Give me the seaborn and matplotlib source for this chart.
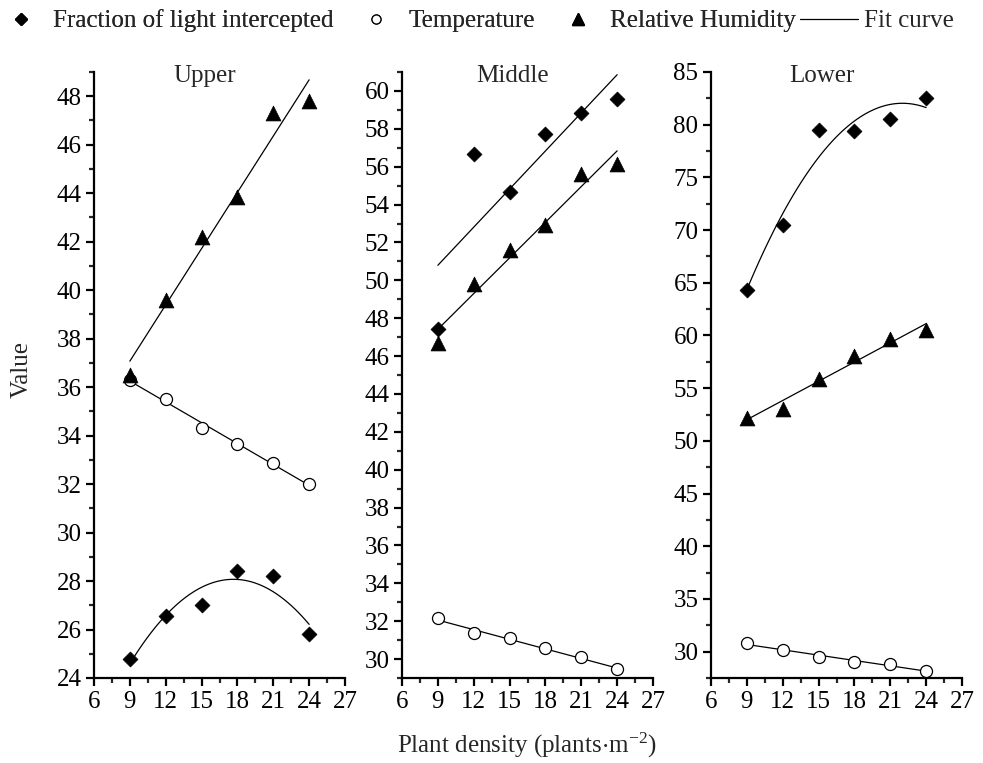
import numpy as np
import pandas as pd
import matplotlib
matplotlib.use("Agg")
import matplotlib.pyplot as plt
import seaborn as sns
from matplotlib.lines import Line2D
from matplotlib.ticker import MultipleLocator

density = [9, 12, 15, 18, 21, 24]

upper_fli = [24.8, 26.55, 27.0, 28.4, 28.2, 25.8]
upper_temp = [36.3, 35.5, 34.3, 33.65, 32.85, 32.0]
upper_rh = [36.5, 39.6, 42.2, 43.85, 47.3, 47.8]

middle_fli = [47.45, 56.65, 54.65, 57.75, 58.85, 59.6]
middle_temp = [32.15, 31.35, 31.1, 30.6, 30.1, 29.45]
middle_rh = [46.7, 49.8, 51.6, 52.9, 55.6, 56.15]

lower_fli = [64.3, 70.5, 79.5, 79.4, 80.5, 82.5]
lower_temp = [30.8, 30.2, 29.5, 29.0, 28.8, 28.2]
lower_rh = [52.2, 53.0, 55.9, 58.1, 59.7, 60.5]

panel_titles = ["Upper", "Middle", "Lower"]
series_labels = ["Fraction of light intercepted", "Temperature", "Relative Humidity"]

sns.set_style("ticks")
plt.rcParams["font.family"] = ["Liberation Serif", "DejaVu Serif"]
plt.rcParams["mathtext.fontset"] = "stix"

FS = 18

fig = plt.figure(figsize=(9.83, 7.63), dpi=100)
lefts = [94 / 983, 402 / 983, 711 / 983]
bottom = 1 - 678 / 763
height = (678 - 72) / 763
width = 251 / 983

panels = [
    (upper_fli, upper_temp, upper_rh, 2, 1, (24, 49), [2, 1, 1]),
    (middle_fli, middle_temp, middle_rh, 2, 1, (29, 61), [1, 1, 1]),
    (lower_fli, lower_temp, lower_rh, 5, 2.5, (27.5, 85), [2, 1, 1]),
]

marker_styles = [
    dict(marker="D", s=58, color="black", edgecolor="black", linewidth=0.5),
    dict(marker="o", s=75, facecolor="white", edgecolor="black", linewidth=0.9),
    dict(marker="^", s=115, color="black", edgecolor="black", linewidth=0.5),
]

for i, (fli, temp, rh, major, minor, ylim, orders) in enumerate(panels):
    ax = fig.add_axes([lefts[i], bottom, width, height])
    for j, vals in enumerate([fli, temp, rh]):
        df = pd.DataFrame({"x": density, "y": vals})
        sns.regplot(data=df, x="x", y="y", order=orders[j], ci=None, ax=ax,
                    scatter=False, color="black",
                    line_kws=dict(color="black", lw=0.9, zorder=2))
        sns.scatterplot(data=df, x="x", y="y", ax=ax, zorder=3, legend=False,
                        **marker_styles[j])
    ax.set_xlim(6, 27)
    ax.set_ylim(*ylim)
    ax.xaxis.set_major_locator(MultipleLocator(3))
    ax.xaxis.set_minor_locator(MultipleLocator(1.5))
    ax.yaxis.set_major_locator(MultipleLocator(major))
    ax.yaxis.set_minor_locator(MultipleLocator(minor))
    ax.set_xlabel("")
    ax.set_ylabel("")
    for s in ["top", "right"]:
        ax.spines[s].set_visible(False)
    for s in ["left", "bottom"]:
        ax.spines[s].set_linewidth(1.6)
        ax.spines[s].set_color("black")
    ax.tick_params(which="major", direction="out", length=6, width=1.6,
                   labelsize=FS, colors="black", pad=3)
    ax.tick_params(which="minor", direction="out", length=3.5, width=1.6)
    ax.text(0.44, 0.993, panel_titles[i], transform=ax.transAxes, ha="center",
            va="center", fontsize=FS)

fig.text(22 / 983, 1 - 370 / 763, "Value", rotation=90, ha="center", va="center",
         fontsize=FS)
fig.text(527 / 983, 1 - 745 / 763, r"Plant density (plants$\cdot$m$^{\mathregular{-2}}$)",
         ha="center", va="center", fontsize=FS)

marker_handles = [
    Line2D([], [], marker="D", color="black", ls="none", markersize=6.0),
    Line2D([], [], marker="o", mfc="white", mec="black", ls="none", markersize=6.5, mew=0.9),
    Line2D([], [], marker="^", color="black", ls="none", markersize=8.5),
]
leg1 = fig.legend(marker_handles, series_labels, loc="center left",
                  bbox_to_anchor=(8 / 983, 1 - 21 / 763), ncol=3, frameon=False,
                  fontsize=FS, handlelength=1.0, columnspacing=1.2,
                  handletextpad=0.8, borderpad=0, borderaxespad=0)
fig.add_artist(leg1)
fig.legend([Line2D([], [], color="black", lw=0.9)], ["Fit curve"], loc="center left",
           bbox_to_anchor=(800 / 983, 1 - 21 / 763), frameon=False, fontsize=FS,
           handlelength=2.3, handletextpad=0.25, borderpad=0, borderaxespad=0)

fig.savefig("out.png", dpi=100)
